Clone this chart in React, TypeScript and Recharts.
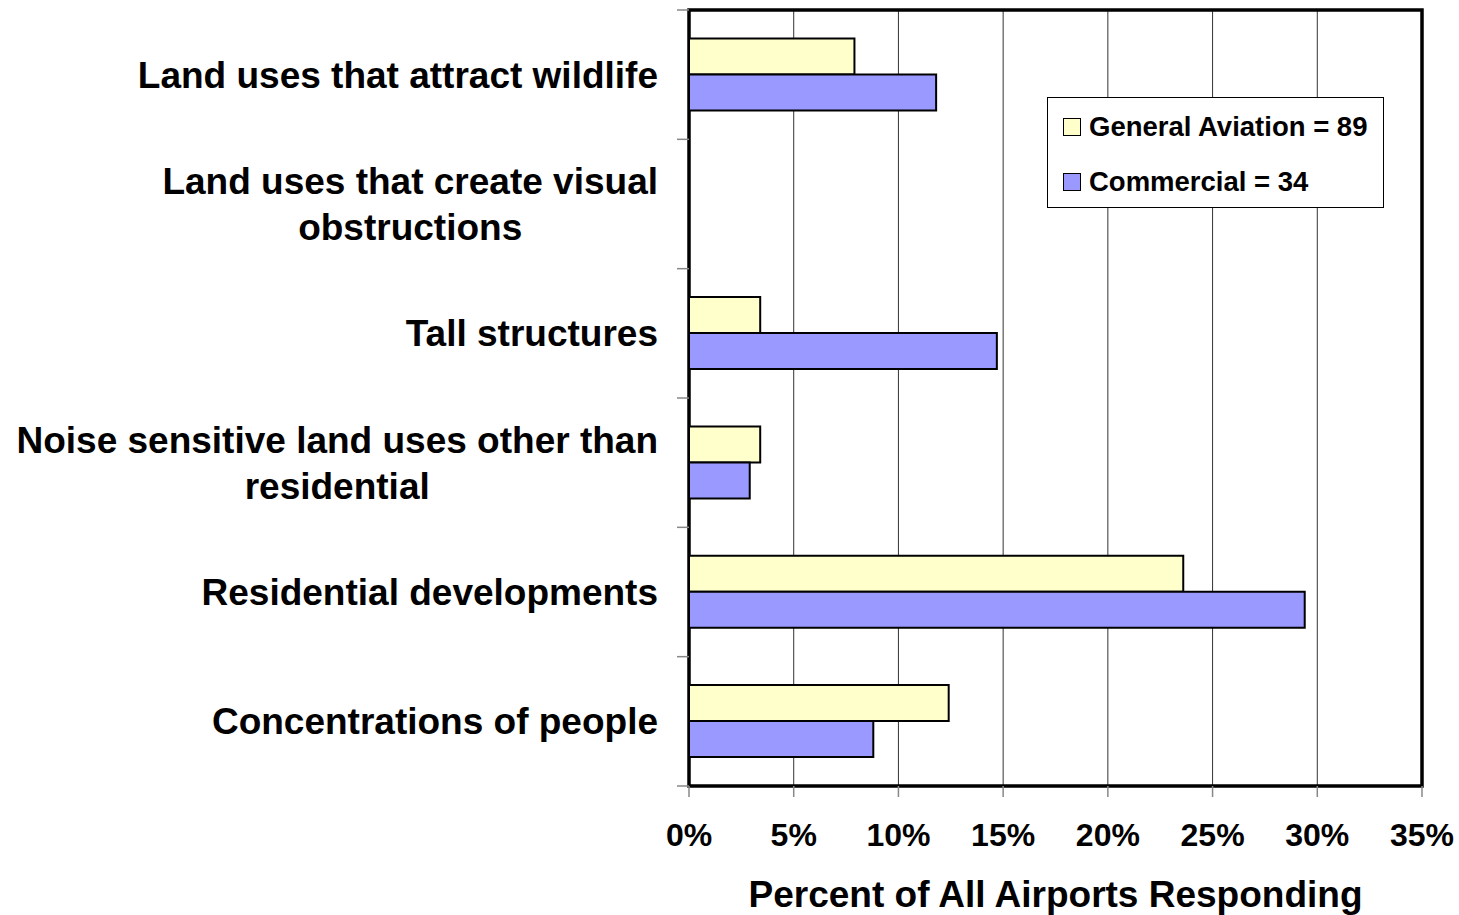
import { BarChart, Bar, XAxis, YAxis, CartesianGrid, ReferenceArea } from 'recharts'

const categories = [
  'Land uses that attract wildlife',
  'Land uses that create visual\nobstructions',
  'Tall structures',
  'Noise sensitive land uses other than\nresidential',
  'Residential developments',
  'Concentrations of people',
]
const generalAviation = [7.9, 0, 3.4, 3.4, 23.6, 12.4]
const commercial = [11.8, 0, 14.7, 2.9, 29.4, 8.8]
const xTicks = [0, 5, 10, 15, 20, 25, 30, 35]
const legendItems = [
  { label: 'General Aviation = 89', color: '#FFFFCC' },
  { label: 'Commercial = 34', color: '#9999FF' },
]

const FONT = '"Liberation Sans", Arial, Helvetica, sans-serif'
const Y_TICK_SIZE = 12
const Y_TICK_MARGIN = 19

const data = categories.map((name, i) => ({
  name,
  ga: generalAviation[i],
  com: commercial[i],
}))

let ctx: CanvasRenderingContext2D | null = null
function textWidth(s: string, font: string) {
  if (!ctx) ctx = document.createElement('canvas').getContext('2d')
  if (!ctx) return s.length * 18
  ctx.font = font
  return ctx.measureText(s).width
}

// category label, plus Excel-style tick marks on the band edges
function CategoryTick(props: any) {
  const { x, y, payload, index, visibleTicksCount, height } = props
  const lines = String(payload.value).split('\n')
  const size = 37
  const lh = 46
  const maxW = Math.max(...lines.map(l => textWidth(l, `bold ${size}px ${FONT}`)))
  const cx = x - maxW / 2
  const startY = y - ((lines.length - 1) * lh) / 2 + size * 0.355
  const band = Number(height) / visibleTicksCount
  const axisX = x + Y_TICK_SIZE + Y_TICK_MARGIN
  const edges = index === visibleTicksCount - 1 ? [y - band / 2, y + band / 2] : [y - band / 2]
  return (
    <g>
      {Number.isFinite(band) &&
        edges.map((ey, i) => (
          <line key={'t' + i} x1={axisX - Y_TICK_SIZE} x2={axisX} y1={ey} y2={ey} stroke="#888" strokeWidth={1.5} />
        ))}
      {lines.map((l, i) => (
        <text
          key={i}
          x={cx}
          y={startY + i * lh}
          textAnchor="middle"
          fontFamily={FONT}
          fontWeight="bold"
          fontSize={size}
          fill="#000"
        >
          {l}
        </text>
      ))}
    </g>
  )
}

function LegendBox() {
  return (
    <div
      style={{
        position: 'absolute',
        left: 1047,
        top: 97,
        boxSizing: 'border-box',
        width: 337,
        height: 111,
        border: '1px solid #000',
        background: '#fff',
        paddingTop: 1,
        paddingLeft: 15,
        fontFamily: FONT,
        fontWeight: 'bold',
        fontSize: 27.5,
        color: '#000',
      }}
    >
      {legendItems.map(it => (
        <div key={it.label} style={{ height: 55, display: 'flex', alignItems: 'center' }}>
          <span
            style={{
              display: 'inline-block',
              boxSizing: 'border-box',
              width: 18,
              height: 18,
              background: it.color,
              border: '1.5px solid #000',
              marginRight: 8,
            }}
          />
          <span style={{ lineHeight: 1 }}>{it.label}</span>
        </div>
      ))}
    </div>
  )
}

export default function App() {
  return (
    <div style={{ position: 'absolute', left: 0, top: 0, width: 1459, height: 915, background: '#fff' }}>
      <BarChart
        width={1459}
        height={915}
        data={data}
        layout="vertical"
        margin={{ top: 10, right: 37, left: 0, bottom: 0 }}
        barCategoryGap="22%"
        barGap={0}
      >
        <CartesianGrid horizontal={false} stroke="#333" strokeWidth={1} />
        <XAxis
          type="number"
          domain={[0, 35]}
          ticks={xTicks}
          tickFormatter={v => `${v}%`}
          height={129}
          axisLine={false}
          tickSize={11}
          tickMargin={26}
          tickLine={{ stroke: '#888', strokeWidth: 1.5 }}
          tick={{ fill: '#000', fontSize: 32, fontWeight: 'bold', fontFamily: FONT }}
          label={{
            value: 'Percent of All Airports Responding',
            position: 'insideBottom',
            offset: 8,
            style: { fill: '#000', fontSize: 37, fontWeight: 'bold', fontFamily: FONT },
          }}
        />
        <YAxis
          type="category"
          dataKey="name"
          width={689}
          interval={0}
          axisLine={false}
          tickSize={Y_TICK_SIZE}
          tickMargin={Y_TICK_MARGIN}
          tickLine={false}
          tick={<CategoryTick />}
        />
        <Bar dataKey="ga" name="General Aviation = 89" fill="#FFFFCC" stroke="#000" strokeWidth={2} isAnimationActive={false} />
        <Bar dataKey="com" name="Commercial = 34" fill="#9999FF" stroke="#000" strokeWidth={2} isAnimationActive={false} />
        <ReferenceArea x1={0} x2={35} fill="none" stroke="#000" strokeWidth={3.5} ifOverflow="visible" />
      </BarChart>
      <LegendBox />
    </div>
  )
}
